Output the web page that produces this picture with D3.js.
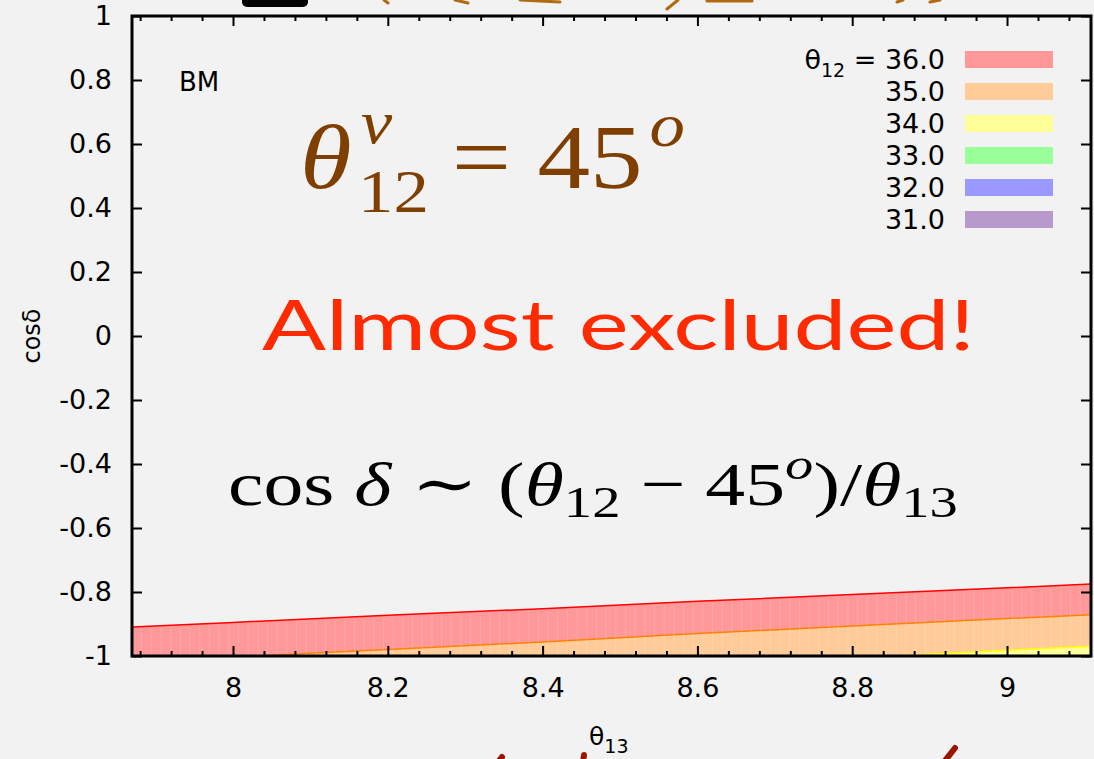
<!DOCTYPE html>
<html>
<head>
<meta charset="utf-8">
<script src="https://cdn.jsdelivr.net/npm/d3@7"></script>
<style>
	body { margin: 0; background: #f2f2f2; }
	text { font-family: "DejaVu Sans", "Liberation Sans", Arial, sans-serif; }
</style>
</head>
<body>
<div id="chart"></div>
<script>
// chart data
var theta13 = [7.87, 8.0, 8.2, 8.4, 8.6, 8.8, 9.0, 9.11];
var theta12 = ["36.0", "35.0", "34.0", "33.0", "32.0", "31.0"];
var cos36 = [-0.909, -0.895, -0.873, -0.852, -0.829, -0.808, -0.787, -0.775];
var cos35 = [-1.018, -1.003, -0.980, -0.956, -0.930, -0.906, -0.883, -0.871];
var cos34 = [-1.120, -1.106, -1.082, -1.057, -1.032, -1.007, -0.982, -0.969];
var cos33 = [-1.230, -1.215, -1.190, -1.165, -1.140, -1.115, -1.090, -1.077];
var cos32 = [-1.340, -1.325, -1.300, -1.275, -1.250, -1.225, -1.200, -1.187];
var cos31 = [-1.450, -1.435, -1.410, -1.385, -1.360, -1.335, -1.310, -1.297];
var xTicks = [8, 8.2, 8.4, 8.6, 8.8, 9];
var yTicks = [-1, -0.8, -0.6, -0.4, -0.2, 0, 0.2, 0.4, 0.6, 0.8, 1];

// colours for each theta12 band
var fills = ['#ff9999', '#ffcc99', '#ffff99', '#99ff99', '#9999ff', '#b899cc'];
var strokes = ['#ff0000', '#ff8000', '#ffff00', '#00dd00', '#0000ff', '#8040a0'];

var bands = [cos36, cos35, cos34, cos33, cos32, cos31];

// margins and canvas
var margin = {left: 132, right: 3, top: 16, bottom: 103};
var width = 1094 - margin.left - margin.right,
	height = 759 - margin.top - margin.bottom;

var svg = d3.select("#chart").append("svg")
	.attr("width", 1094)
	.attr("height", 759);

svg.append("rect")
	.attr("width", 1094)
	.attr("height", 759)
	.attr("fill", "#f2f2f2");

var canvas = svg.append("g")
	.attr("transform", "translate(" + margin.left + ", " + margin.top + ")");

// scales
var x = d3.scaleLinear()
	.domain([7.8695, 9.1085])
	.range([0, width]);

var y = d3.scaleLinear()
	.domain([-1, 1])
	.range([height, 0]);

// clip bands to the plot
canvas.append("clipPath")
	.attr("id", "plot-clip")
	.append("rect")
	.attr("width", width)
	.attr("height", height);

var area = d3.area()
	.x(function(d){ return x(d.t) })
	.y0(y(-1))
	.y1(function(d){ return y(d.c) });

var line = d3.line()
	.x(function(d){ return x(d.t) })
	.y(function(d){ return y(d.c) });

var bandG = canvas.append("g").attr("clip-path", "url(#plot-clip)");

bands.forEach(function(vals, i){
	var pts = theta13.map(function(t, j){ return {t: t, c: vals[j]} });
	bandG.append("path")
		.datum(pts)
		.attr("d", area)
		.attr("fill", fills[i]);
	bandG.append("path")
		.datum(pts)
		.attr("d", line)
		.attr("fill", "none")
		.attr("stroke", strokes[i])
		.attr("stroke-width", 1.5);
});

// faint vertical stripes in the filled polygons
var stripes = d3.range(x.domain()[0], x.domain()[1], 0.0125);
var stripeG = canvas.append("g").attr("clip-path", "url(#plot-clip)");
stripeG.selectAll("line")
	.data(stripes)
	.enter().append("line")
	.attr("x1", function(d){ return x(d) })
	.attr("x2", function(d){ return x(d) })
	.attr("y1", function(d){
		var j = d3.bisectLeft(theta13, d);
		j = Math.max(1, Math.min(j, theta13.length - 1));
		var k = (d - theta13[j-1]) / (theta13[j] - theta13[j-1]);
		return y(cos36[j-1] + k * (cos36[j] - cos36[j-1])) + 2;
	})
	.attr("y2", height)
	.attr("stroke", "#ffffff")
	.attr("stroke-opacity", 0.15)
	.attr("stroke-width", 1);

// minor ticks on x
var minor = d3.range(7.88, 9.11, 0.04).filter(function(d){
	return Math.abs(d * 5 - Math.round(d * 5)) > 0.01;
});

function styleAxis(g){
	g.select(".domain").remove();
	g.selectAll("line").attr("stroke", "#000").attr("stroke-width", 2);
	g.selectAll("text")
		.attr("fill", "#000")
		.style("font-size", "27px");
}

var fmt = function(d){ return d === 0 ? "0" : String(+d.toFixed(1)) };

// x axes
canvas.append("g")
	.attr("transform", "translate(0," + height + ")")
	.call(d3.axisBottom(x).tickValues(xTicks).tickSizeInner(-10).tickSizeOuter(0).tickPadding(22).tickFormat(fmt))
	.call(styleAxis);

canvas.append("g")
	.attr("transform", "translate(0," + height + ")")
	.call(d3.axisBottom(x).tickValues(minor).tickSizeInner(-5).tickSizeOuter(0).tickFormat(""))
	.call(styleAxis);

canvas.append("g")
	.call(d3.axisTop(x).tickValues(xTicks).tickSizeInner(-10).tickSizeOuter(0).tickFormat(""))
	.call(styleAxis);

canvas.append("g")
	.call(d3.axisTop(x).tickValues(minor).tickSizeInner(-5).tickSizeOuter(0).tickFormat(""))
	.call(styleAxis);

// y axes
canvas.append("g")
	.call(d3.axisLeft(y).tickValues(yTicks).tickSizeInner(-10).tickSizeOuter(0).tickPadding(20).tickFormat(fmt))
	.call(styleAxis);

canvas.append("g")
	.attr("transform", "translate(" + width + ",0)")
	.call(d3.axisRight(y).tickValues(yTicks).tickSizeInner(-10).tickSizeOuter(0).tickFormat(""))
	.call(styleAxis);

// border
canvas.append("rect")
	.attr("width", width)
	.attr("height", height)
	.attr("fill", "none")
	.attr("stroke", "#000")
	.attr("stroke-width", 3);

// axis labels
var xl = svg.append("text")
	.attr("x", 589)
	.attr("y", 745)
	.style("font-size", "25px");
xl.append("tspan").text("θ");
xl.append("tspan").attr("dy", 8).style("font-size", "19px").text("13");

svg.append("text")
	.attr("transform", "translate(40,336) rotate(-90)")
	.attr("text-anchor", "middle")
	.style("font-size", "24px")
	.text("cosδ");

// BM label
canvas.append("text")
	.attr("x", 47)
	.attr("y", 75)
	.style("font-size", "26px")
	.text("BM");

// legend
var legend = canvas.append("g")
	.attr("transform", "translate(" + (width - 126) + ",0)");

theta12.forEach(function(lbl, i){
	var row = legend.append("g")
		.attr("transform", "translate(0," + (43 + i * 32) + ")");

	var t = row.append("text")
		.attr("x", -20)
		.attr("y", 10)
		.attr("text-anchor", "end")
		.style("font-size", "27px");
	if (i == 0) {
		t.append("tspan").text("θ");
		t.append("tspan").attr("dy", 8).style("font-size", "19px").text("12");
		t.append("tspan").attr("dy", -8).text(" = " + lbl);
	} else {
		t.text(lbl);
	}

	row.append("rect")
		.attr("x", 0)
		.attr("y", -8)
		.attr("width", 88)
		.attr("height", 17)
		.attr("fill", fills[i]);
});

// fit a text box into a given width
function fitText(t, x0, w){
	var b = t.node().getBBox();
	var s = w / b.width;
	t.attr("transform", "translate(" + x0 + ",0) scale(" + s + ",1) translate(" + (-b.x) + ",0)");
}

// big annotations
var serif = "'Liberation Serif', 'DejaVu Serif', serif";
var brown = "#7f3f00";

var a1 = svg.append("text")
	.attr("y", 188)
	.attr("fill", brown)
	.style("font-family", serif)
	.style("font-size", "92px");
a1.append("tspan").style("font-style", "italic").text("θ");
a1.append("tspan").attr("dx", 8).attr("dy", -45).style("font-style", "italic").style("font-size", "62px").text("ν");
a1.append("tspan").attr("dx", -30).attr("dy", 69).style("font-size", "62px").text("12");
a1.append("tspan").attr("dx", 20).attr("dy", -24).text("= 45");
a1.append("tspan").attr("dx", 6).attr("dy", -42).style("font-style", "italic").style("font-size", "62px").text("o");
fitText(a1, 300, 385);

var a2 = svg.append("text")
	.attr("y", 350)
	.attr("fill", "#ff2a00")
	.style("font-family", "'Comic Sans MS', 'Lato', sans-serif")
	.style("font-size", "70px")
	.text("Almost excluded!");
fitText(a2, 262, 713);

var a3 = svg.append("text")
	.attr("y", 505)
	.attr("fill", "#000")
	.style("font-family", serif)
	.style("font-size", "62px");
a3.append("tspan").text("cos ");
a3.append("tspan").style("font-style", "italic").text("δ");
a3.append("tspan").text(" ∼ (");
a3.append("tspan").style("font-style", "italic").text("θ");
a3.append("tspan").attr("dy", 12).style("font-size", "44px").text("12");
a3.append("tspan").attr("dy", -12).text(" − 45");
a3.append("tspan").attr("dy", -26).style("font-style", "italic").style("font-size", "44px").text("o");
a3.append("tspan").attr("dy", 26).text(")/");
a3.append("tspan").style("font-style", "italic").text("θ");
a3.append("tspan").attr("dy", 12).style("font-size", "44px").text("13");
fitText(a3, 228, 730);

// cut off slide scribbles at top and bottom edges
svg.append("rect")
	.attr("x", 242).attr("y", -8)
	.attr("width", 66).attr("height", 15)
	.attr("rx", 5)
	.attr("fill", "#000");

var scribbles = [
	"M384,0 L388,3", "M455,0 L468,3", "M520,0 L560,2",
	"M667,9 L678,0", "M707,1 L752,1", "M897,2 L903,0", "M930,2 L940,0"
];
svg.selectAll(".scrib")
	.data(scribbles)
	.enter().append("path")
	.attr("class", "scrib")
	.attr("d", function(d){ return d })
	.attr("stroke", "#b06a10")
	.attr("stroke-width", 3)
	.attr("stroke-linecap", "round")
	.attr("fill", "none");

var lower = ["M498,762 L502,757", "M583,762 L584,755", "M944,762 L955,748"];
svg.selectAll(".scrib2")
	.data(lower)
	.enter().append("path")
	.attr("class", "scrib2")
	.attr("d", function(d){ return d })
	.attr("stroke", "#9a1500")
	.attr("stroke-width", 6)
	.attr("stroke-linecap", "round")
	.attr("fill", "none");
</script>
</body>
</html>
